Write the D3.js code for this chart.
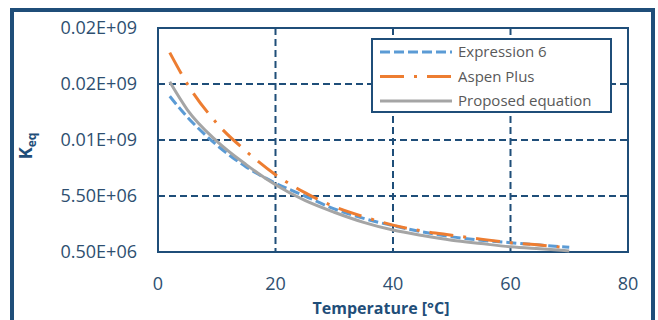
<!DOCTYPE html>
<html lang="en">
<head>
<meta charset="UTF-8">
<title>Keq vs Temperature</title>
<script src="https://d3js.org/d3.v7.min.js"></script>
<style>
  body { margin: 0; background: #fff; }
  svg { display: block; font-family: "Open Sans", sans-serif; }
</style>
</head>
<body>
<svg id="chart" width="658" height="320"></svg>
<script>
// temperatures (°C)
const temps = [2, 5, 10, 15, 20, 25, 30, 35, 40, 45, 50, 55, 60, 65, 70];
const expression6 = [14.4e6, 12.55e6, 10.05e6, 8.1e6, 6.65e6, 5.5e6, 4.35e6, 3.5e6, 2.85e6, 2.3e6, 1.85e6, 1.55e6, 1.33e6, 1.12e6, 0.93e6];
const aspenPlus = [18.3e6, 15.5e6, 12.0e6, 9.5e6, 7.4e6, 5.8e6, 4.55e6, 3.65e6, 2.9e6, 2.37e6, 2.0e6, 1.65e6, 1.33e6, 1.12e6, 0.85e6];
const proposed = [15.7e6, 13.2e6, 10.4e6, 8.3e6, 6.5e6, 5.1e6, 4.05e6, 3.15e6, 2.46e6, 1.97e6, 1.55e6, 1.25e6, 0.97e6, 0.78e6, 0.6e6];

const xTicks = [0, 20, 40, 60, 80];
const yTicks = [0.5e6, 5.5e6, 10.5e6, 15.5e6, 20.5e6];
const yTickLabels = ["0.50E+06", "5.50E+06", "0.01E+09", "0.02E+09", "0.02E+09"];

const navy = "#1F4E79";
const svg = d3.select("#chart");
const plot = { left: 158, right: 628, top: 28, bottom: 252 };

const x = d3.scaleLinear().domain([0, 80]).range([plot.left, plot.right]);
const y = d3.scaleLinear().domain([0.5e6, 20.5e6]).range([plot.bottom, plot.top]);

// outer frame
svg.append("rect")
    .attr("x", 12).attr("y", 10)
    .attr("width", 641).attr("height", 330)
    .attr("fill", "none")
    .attr("stroke", navy)
    .attr("stroke-width", 4);

// gridlines
svg.append("g")
    .selectAll("line")
    .data(xTicks.slice(1, -1))
    .join("line")
    .attr("x1", d => x(d)).attr("x2", d => x(d))
    .attr("y1", plot.top).attr("y2", plot.bottom)
    .attr("stroke", navy).attr("stroke-width", 2)
    .attr("stroke-dasharray", "7,4");

svg.append("g")
    .selectAll("line")
    .data(yTicks.slice(1, -1))
    .join("line")
    .attr("x1", plot.left).attr("x2", plot.right)
    .attr("y1", d => y(d)).attr("y2", d => y(d))
    .attr("stroke", navy).attr("stroke-width", 2)
    .attr("stroke-dasharray", "7,4");

// plot border
svg.append("rect")
    .attr("x", plot.left).attr("y", plot.top)
    .attr("width", plot.right - plot.left)
    .attr("height", plot.bottom - plot.top)
    .attr("fill", "none")
    .attr("stroke", navy)
    .attr("stroke-width", 2);

// tick labels
svg.append("g")
    .selectAll("text")
    .data(yTicks)
    .join("text")
    .attr("x", 137)
    .attr("y", d => y(d))
    .attr("dy", "0.36em")
    .attr("text-anchor", "end")
    .attr("fill", "#2E4F70")
    .style("font-size", "18px")
    .text((d, i) => yTickLabels[i]);

svg.append("g")
    .selectAll("text")
    .data(xTicks)
    .join("text")
    .attr("x", d => x(d))
    .attr("y", 290)
    .attr("text-anchor", "middle")
    .attr("fill", "#2E4F70")
    .style("font-size", "18px")
    .text(d => d);

// axis titles
svg.append("text")
    .attr("x", 381).attr("y", 314)
    .attr("text-anchor", "middle")
    .attr("fill", navy)
    .style("font-size", "16px")
    .style("font-weight", "bold")
    .text("Temperature [°C]");

const yTitle = svg.append("text")
    .attr("transform", "translate(32,146) rotate(-90)")
    .attr("text-anchor", "middle")
    .attr("fill", navy)
    .style("font-size", "18px")
    .style("font-weight", "bold");
yTitle.append("tspan").text("K");
yTitle.append("tspan").attr("dy", 4).style("font-size", "12px").text("eq");

// series
const series = [
    { name: "Expression 6", values: expression6, color: "#5B9BD5", dash: "10,4" },
    { name: "Aspen Plus", values: aspenPlus, color: "#ED7D31", dash: "24,10,3,10" },
    { name: "Proposed equation", values: proposed, color: "#A5A5A5", dash: null }
];

const line = d3.line()
    .x(d => x(d[0]))
    .y(d => y(d[1]))
    .curve(d3.curveMonotoneX);

series.forEach(s => {
    svg.append("path")
        .datum(temps.map((t, i) => [t, s.values[i]]))
        .attr("fill", "none")
        .attr("stroke", s.color)
        .attr("stroke-width", 3)
        .attr("stroke-dasharray", s.dash)
        .attr("d", line);
});

// legend
const legend = svg.append("g");
legend.append("rect")
    .attr("x", 372).attr("y", 39)
    .attr("width", 239).attr("height", 73)
    .attr("fill", "#fff")
    .attr("stroke", navy)
    .attr("stroke-width", 2);

series.forEach((s, i) => {
    const ly = 52 + i * 24.5;
    legend.append("line")
        .attr("x1", 380).attr("x2", 452)
        .attr("y1", ly).attr("y2", ly)
        .attr("stroke", s.color)
        .attr("stroke-width", 3)
        .attr("stroke-dasharray", s.dash);
    legend.append("text")
        .attr("x", 458).attr("y", ly)
        .attr("dy", "0.35em")
        .attr("fill", "#595959")
        .style("font-size", "15px")
        .text(s.name);
});
</script>
</body>
</html>
